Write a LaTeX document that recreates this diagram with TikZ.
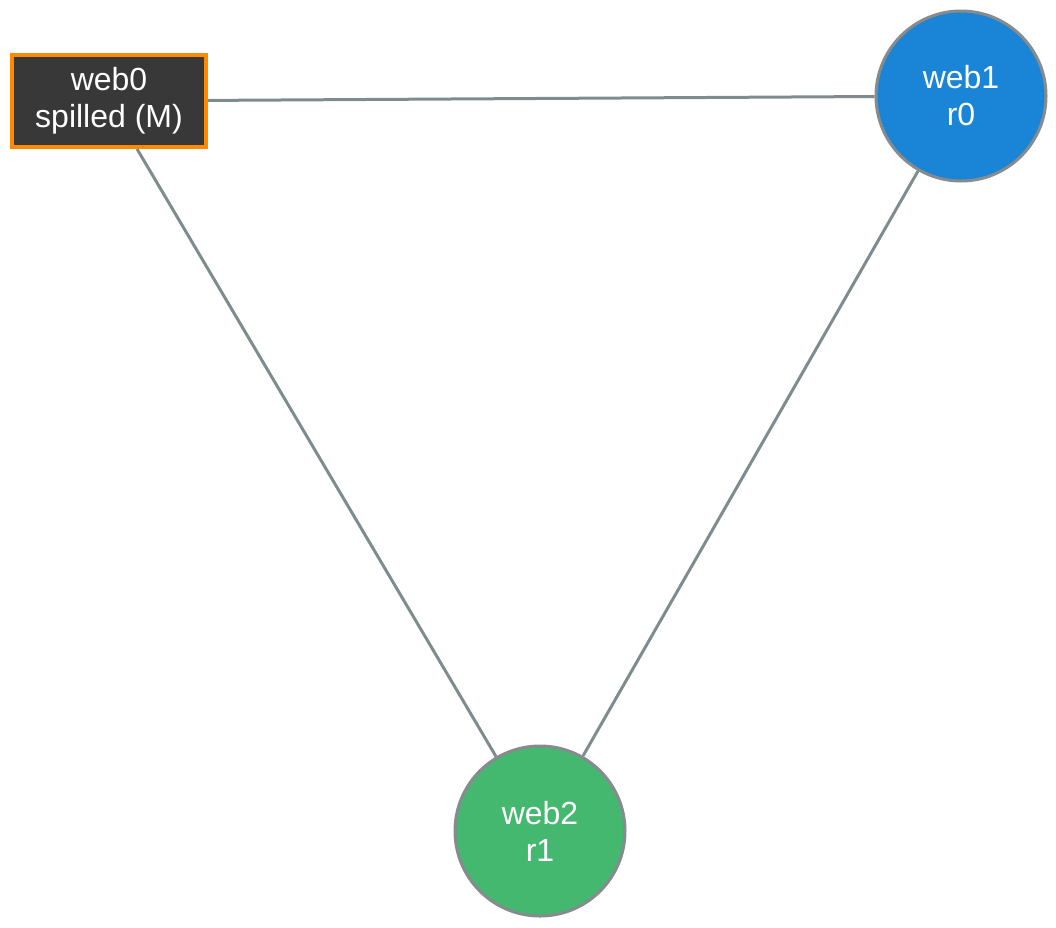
\documentclass[tikz,border=0pt]{standalone}
\usepackage{fontspec}
\setmainfont{Liberation Sans}
\definecolor{edgec}{HTML}{7F8C8D}
\definecolor{ringc}{HTML}{858B8E}
\definecolor{bluec}{HTML}{1A84D6}
\definecolor{greenc}{HTML}{44B86F}
\definecolor{darkc}{HTML}{383838}
\definecolor{orangec}{HTML}{FF8A00}
\begin{document}
\begin{tikzpicture}[x=1pt,y=-1pt,
  edge/.style={draw=edgec,line width=3pt},
  reg/.style={circle,draw=ringc,line width=3pt,minimum size=170pt,inner sep=0pt,text=white,font=\fontsize{32}{37}\selectfont,align=center},
  spill/.style={rectangle,draw=orangec,fill=darkc,line width=4pt,minimum width=194pt,minimum height=92pt,inner sep=0pt,text=white,font=\fontsize{32}{37}\selectfont,align=center}]
\useasboundingbox (0,0) rectangle (1056,927);
\node[spill] (w0) at (109,101) {web0\\spilled (M)};
\node[reg,fill=bluec] (w1) at (961,96) {web1\\r0};
\node[reg,fill=greenc] (w2) at (540,831) {web2\\r1};
\draw[edge] (w0) -- (w1);
\draw[edge] (w0) -- (w2);
\draw[edge] (w1) -- (w2);
\end{tikzpicture}
\end{document}
